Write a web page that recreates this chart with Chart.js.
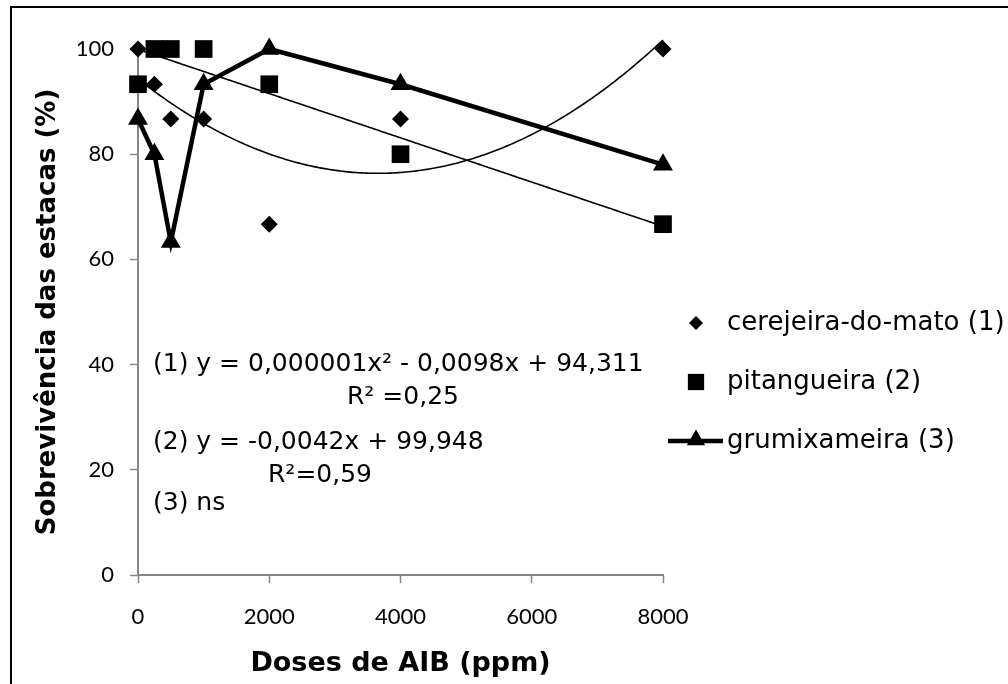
<!DOCTYPE html>
<html>
<head>
<meta charset="utf-8">
<script src="https://cdn.jsdelivr.net/npm/chart.js@4.4.0/dist/chart.umd.min.js"></script>
<style>
    body { margin: 0; background: #fff; }
</style>
</head>
<body>
<canvas id="myChart" width="1008" height="684"></canvas>
<script>
var doses = [0, 250, 500, 1000, 2000, 4000, 8000];
var cerejeira = [100, 93.3, 86.7, 86.7, 66.7, 86.7, 100];
var pitangueira = [93.3, 100, 100, 100, 93.3, 80, 66.7];
var grumixameira = [86.7, 80, 63.3, 93.3, 100, 93.3, 78];
var xTicks = [0, 2000, 4000, 6000, 8000];
var yTicks = [0, 20, 40, 60, 80, 100];
var nomes = ['cerejeira-do-mato (1)', 'pitangueira (2)', 'grumixameira (3)'];
var equacoes = ['(1) y = 0,000001x² - 0,0098x + 94,311', 'R² =0,25', '(2) y = -0,0042x + 99,948', 'R²=0,59', '(3) ns'];

var cinza = '#868686';
var fonteTexto = '"DejaVu Sans", "Liberation Sans", Arial, sans-serif';
var fonteNum = 'Lato, "Open Sans", sans-serif';

function pontos(arr) {
    return doses.map(function (x, i) { return { x: x, y: arr[i] }; });
}

// minimos quadrados (grau 1 ou 2), como a linha de tendencia do Excel
function ajuste(xs, ys, grau) {
    var n = grau + 1;
    var m = [];
    for (var r = 0; r < n; r++) {
        m.push([]);
        for (var c = 0; c <= n; c++) m[r].push(0);
    }
    for (var i = 0; i < xs.length; i++) {
        for (var r = 0; r < n; r++) {
            for (var c = 0; c < n; c++) m[r][c] += Math.pow(xs[i], r + c);
            m[r][n] += ys[i] * Math.pow(xs[i], r);
        }
    }
    for (var k = 0; k < n; k++) {
        for (var r = k + 1; r < n; r++) {
            var f = m[r][k] / m[k][k];
            for (var c = k; c <= n; c++) m[r][c] -= f * m[k][c];
        }
    }
    var coef = new Array(n);
    for (var r = n - 1; r >= 0; r--) {
        var s = m[r][n];
        for (var c = r + 1; c < n; c++) s -= m[r][c] * coef[c];
        coef[r] = s / m[r][r];
    }
    return coef;
}

function desenhaMarcador(ctx, estilo, x, y, r) {
    ctx.beginPath();
    if (estilo == 'rectRot') {
        ctx.moveTo(x, y - r); ctx.lineTo(x + r, y); ctx.lineTo(x, y + r); ctx.lineTo(x - r, y);
    } else if (estilo == 'rect') {
        var s = r * Math.SQRT1_2;
        ctx.rect(x - s, y - s, 2 * s, 2 * s);
    } else {
        ctx.moveTo(x, y - r); ctx.lineTo(x + r * 0.866, y + r * 0.5); ctx.lineTo(x - r * 0.866, y + r * 0.5);
    }
    ctx.closePath();
    ctx.fill();
}

var tendencias = [
    { serie: cerejeira, grau: 2 },
    { serie: pitangueira, grau: 1 }
];

var extras = {
    id: 'extras',
    beforeDraw: function (chart) {
        var ctx = chart.ctx;
        ctx.save();
        ctx.fillStyle = '#fff';
        ctx.fillRect(0, 0, chart.width, chart.height);
        ctx.strokeStyle = '#000';
        ctx.lineWidth = 2;
        ctx.beginPath();
        ctx.moveTo(11, chart.height);
        ctx.lineTo(11, 7);
        ctx.lineTo(chart.width, 7);
        ctx.stroke();
        ctx.restore();
    },
    beforeDatasetsDraw: function (chart) {
        var ctx = chart.ctx;
        var sx = chart.scales.x, sy = chart.scales.y;
        ctx.save();
        ctx.strokeStyle = '#000';
        ctx.lineWidth = 1.6;
        tendencias.forEach(function (t) {
            var coef = ajuste(doses, t.serie, t.grau);
            ctx.beginPath();
            for (var v = doses[0]; v <= doses[doses.length - 1]; v += 40) {
                var yv = 0;
                for (var k = 0; k < coef.length; k++) yv += coef[k] * Math.pow(v, k);
                var px = sx.getPixelForValue(v), py = sy.getPixelForValue(yv);
                if (v == doses[0]) ctx.moveTo(px, py); else ctx.lineTo(px, py);
            }
            ctx.stroke();
        });
        ctx.restore();
    },
    afterDraw: function (chart) {
        var ctx = chart.ctx;
        ctx.save();
        ctx.fillStyle = '#000';
        ctx.textBaseline = 'middle';

        // equacoes
        ctx.font = '25px ' + fonteTexto;
        var posEq = [[153, 364], [347, 397], [153, 442], [268, 475], [153, 503]];
        equacoes.forEach(function (t, i) {
            ctx.fillText(t, posEq[i][0], posEq[i][1]);
        });

        // legenda
        ctx.font = '26px ' + fonteTexto;
        var yLeg = [323, 382, 441];
        var ds = chart.data.datasets;
        nomes.forEach(function (nome, i) {
            var est = ds[i].pointStyle;
            if (ds[i].showLine) {
                ctx.strokeStyle = '#000';
                ctx.lineWidth = 4.5;
                ctx.beginPath();
                ctx.moveTo(668, yLeg[i]);
                ctx.lineTo(723, yLeg[i]);
                ctx.stroke();
                desenhaMarcador(ctx, est, 696, yLeg[i] - 1, 10.5);
            } else {
                desenhaMarcador(ctx, est, 696, yLeg[i], est == 'rect' ? 11.5 : 7);
            }
            ctx.fillText(nome, 727, yLeg[i]);
        });
        ctx.restore();
    }
};

var config = {
    type: 'scatter',
    data: {
        datasets: [{
            label: nomes[0],
            data: pontos(cerejeira),
            pointStyle: 'rectRot',
            pointRadius: 8.5,
            pointHoverRadius: 8.5,
            backgroundColor: '#000',
            borderColor: '#000',
            borderWidth: 0,
            showLine: false,
            clip: false
        }, {
            label: nomes[1],
            data: pontos(pitangueira),
            pointStyle: 'rect',
            pointRadius: 12.5,
            pointHoverRadius: 12.5,
            backgroundColor: '#000',
            borderColor: '#000',
            borderWidth: 0,
            showLine: false,
            clip: false
        }, {
            label: nomes[2],
            data: pontos(grumixameira),
            pointStyle: 'triangle',
            pointRadius: 11.5,
            pointHoverRadius: 11.5,
            pointBackgroundColor: '#000',
            pointBorderWidth: 0,
            backgroundColor: '#000',
            borderColor: '#000',
            borderWidth: 4.5,
            showLine: true,
            tension: 0,
            clip: false
        }]
    },
    options: {
        responsive: false,
        animation: false,
        devicePixelRatio: 1,
        layout: { padding: { left: 0, top: 49, right: 345, bottom: 0 } },
        plugins: {
            legend: { display: false },
            tooltip: { enabled: false }
        },
        scales: {
            x: {
                type: 'linear',
                min: 0,
                max: 8000,
                afterBuildTicks: function (axis) {
                    axis.ticks = xTicks.map(function (v) { return { value: v }; });
                },
                afterFit: function (scale) { scale.height = 109; },
                ticks: {
                    color: '#000',
                    padding: 21,
                    maxRotation: 0,
                    callback: function (value) { return String(value); },
                    font: { family: fonteNum, size: 22 }
                },
                grid: { drawOnChartArea: false, tickLength: 8, tickColor: cinza, tickWidth: 1.5 },
                border: { color: cinza, width: 2 },
                title: {
                    display: true,
                    text: 'Doses de AIB (ppm)',
                    color: '#000',
                    padding: { bottom: 4 },
                    font: { family: fonteTexto, size: 27, weight: 'bold' }
                }
            },
            y: {
                min: 0,
                max: 100,
                afterBuildTicks: function (axis) {
                    axis.ticks = yTicks.map(function (v) { return { value: v }; });
                },
                afterFit: function (scale) { scale.width = 138; },
                ticks: {
                    color: '#000',
                    padding: 16,
                    callback: function (value) { return String(value); },
                    font: { family: fonteNum, size: 22 }
                },
                grid: { drawOnChartArea: false, tickLength: 8, tickColor: cinza, tickWidth: 1.5 },
                border: { color: cinza, width: 2 },
                title: {
                    display: true,
                    text: 'Sobrevivência das estacas (%)',
                    color: '#000',
                    padding: { top: 33 },
                    font: { family: fonteTexto, size: 26, weight: 'bold' }
                }
            }
        }
    },
    plugins: [extras]
};

var myChart = new Chart(document.getElementById('myChart'), config);
</script>
</body>
</html>
